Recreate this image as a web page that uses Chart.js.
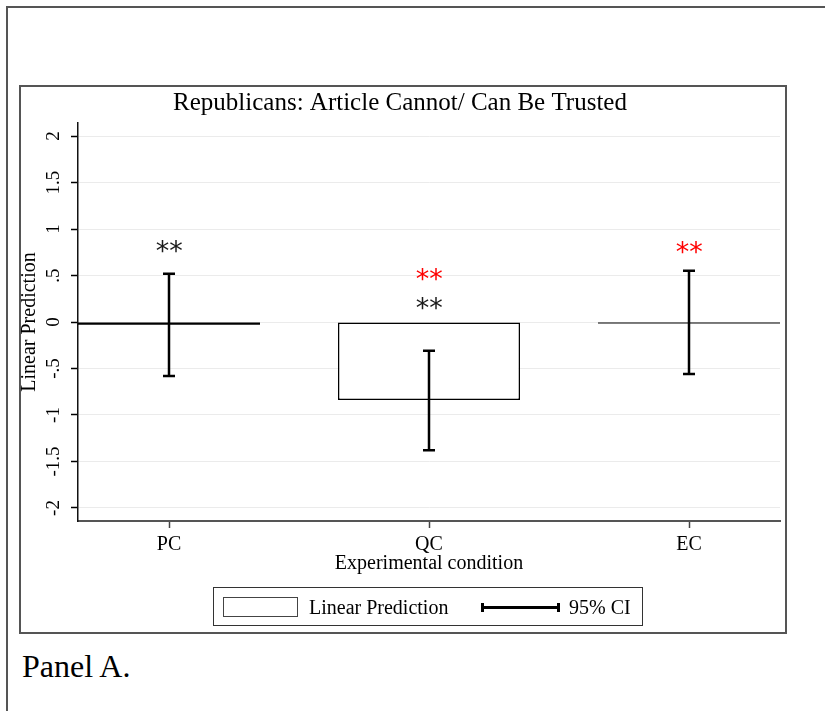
<!DOCTYPE html>
<html lang="en">
<head>
<meta charset="UTF-8">
<title>Republicans: Article Cannot/ Can Be Trusted</title>
<script src="https://cdn.jsdelivr.net/npm/chart.js"></script>
<style>
    body { margin: 0; background: #fff; font-family: "Liberation Serif", serif; color: #000; }
    #page { position: relative; width: 825px; height: 711px; overflow: hidden; background: #fff; }
    /* page frame and graph region */
    #outerFrame { position: absolute; left: 6px; top: 6px; width: 900px; height: 800px; border-left: 2px solid #555; border-top: 2px solid #555; }
    #graphBox { position: absolute; left: 19px; top: 85px; width: 768px; height: 549px; box-sizing: border-box; border: 2px solid #555; }
    #chartCanvas { position: absolute; left: 0; top: 0; z-index: 1; }
    /* legend */
    #legendBox { position: absolute; left: 213px; top: 587px; width: 430px; height: 39px; box-sizing: border-box; border: 1.5px solid #333; z-index: 2; }
    #legendSwatch { position: absolute; left: 223px; top: 597px; width: 75px; height: 20px; box-sizing: border-box; border: 1.5px solid #444; background: #fff; z-index: 2; }
    .legendText { position: absolute; top: 597px; font-size: 20px; line-height: 20px; white-space: nowrap; z-index: 2; }
    .ciPart { position: absolute; background: #000; z-index: 2; }
    #panelLabel { position: absolute; left: 22px; top: 650px; font-size: 32px; line-height: 32px; white-space: nowrap; }
</style>
</head>
<body>
<div id="page">
    <div id="outerFrame"></div>
    <div id="graphBox"></div>
    <canvas id="chartCanvas" width="825" height="711"></canvas>

    <div id="legendBox"></div>
    <div id="legendSwatch"></div>
    <span class="legendText" style="left: 309px;">Linear Prediction</span>
    <div class="ciPart" style="left: 482px; top: 606px; width: 77px; height: 2.5px;"></div>
    <div class="ciPart" style="left: 481px; top: 603px; width: 2.5px; height: 9px;"></div>
    <div class="ciPart" style="left: 557px; top: 603px; width: 2.5px; height: 9px;"></div>
    <span class="legendText" style="left: 569px;">95% CI</span>

    <div id="panelLabel">Panel A.</div>
</div>

<script>
    // values
    const conditions = ['PC', 'QC', 'EC'];
    const conditionPos = [0, 1, 2];
    const predictions = [-0.03, -0.84, -0.016];
    const ciLower = [-0.58, -1.38, -0.56];
    const ciUpper = [0.52, -0.31, 0.55];
    const yTickValues = [-2, -1.5, -1, -0.5, 0, 0.5, 1, 1.5, 2];
    const yTickLabels = ['-2', '-1.5', '-1', '-.5', '0', '.5', '1', '1.5', '2'];

    // significance stars: which condition, at what height, what colour
    const starCondition = [0, 1, 1, 2];
    const starValue = [0.81, 0.51, 0.20, 0.80];
    const starColor = ['#1a1a1a', '#ff0000', '#1a1a1a', '#ff0000'];

    const serif = 'Liberation Serif';

    // 95% CI whiskers with caps
    const errorBars = {
        id: 'errorBars',
        afterDatasetsDraw(chart) {
            const { ctx, scales: { x, y } } = chart;
            ctx.save();
            ctx.strokeStyle = '#000';
            ctx.lineWidth = 2.5;
            conditionPos.forEach((c, i) => {
                const px = x.getPixelForValue(c);
                const top = y.getPixelForValue(ciUpper[i]);
                const bot = y.getPixelForValue(ciLower[i]);
                ctx.beginPath();
                ctx.moveTo(px, top);
                ctx.lineTo(px, bot);
                ctx.moveTo(px - 6, top);
                ctx.lineTo(px + 6, top);
                ctx.moveTo(px - 6, bot);
                ctx.lineTo(px + 6, bot);
                ctx.stroke();
            });
            ctx.restore();
        }
    };

    // the ** markers above the bars
    const stars = {
        id: 'stars',
        afterDatasetsDraw(chart) {
            const { ctx, scales: { x, y } } = chart;
            ctx.save();
            ctx.font = '27px "DejaVu Sans"';
            ctx.textAlign = 'center';
            ctx.textBaseline = 'alphabetic';
            const m = ctx.measureText('*');
            const shift = (m.actualBoundingBoxAscent - m.actualBoundingBoxDescent) / 2;
            starCondition.forEach((c, i) => {
                const px = x.getPixelForValue(c);
                const py = y.getPixelForValue(starValue[i]) + shift;
                ctx.fillStyle = starColor[i];
                ctx.fillText('*', px - 6.5, py);
                ctx.fillText('*', px + 7, py);
            });
            ctx.restore();
        }
    };

    new Chart(document.getElementById('chartCanvas'), {
        type: 'bar',
        data: {
            datasets: [{
                label: 'Linear Prediction',
                data: conditionPos.map((c, i) => ({ x: c, y: predictions[i] })),
                // a bar thinner than its outline is just a black line
                backgroundColor: c => {
                    const el = c.chart.scales.y;
                    const h = Math.abs(el.getPixelForValue(predictions[c.dataIndex]) - el.getPixelForValue(0));
                    return h < 3 ? '#000' : '#fff';
                },
                borderColor: '#000',
                borderWidth: c => {
                    const el = c.chart.scales.y;
                    const h = Math.abs(el.getPixelForValue(predictions[c.dataIndex]) - el.getPixelForValue(0));
                    return h < 3 ? 0 : 1.5;
                },
                borderSkipped: false,
                categoryPercentage: 0.7,
                barPercentage: 1.0
            }]
        },
        options: {
            responsive: false,
            animation: false,
            layout: { padding: { left: 20, top: 86, right: 45, bottom: 135 } },
            plugins: {
                legend: { display: false },
                tooltip: { enabled: false },
                title: {
                    display: true,
                    text: 'Republicans: Article Cannot/ Can Be Trusted',
                    color: '#000',
                    font: { family: serif, size: 25, weight: 'normal', lineHeight: 1.2 },
                    padding: { top: 2, bottom: 5 }
                }
            },
            scales: {
                x: {
                    type: 'linear',
                    min: -0.35,
                    max: 2.35,
                    offset: false,
                    afterBuildTicks: s => { s.ticks = conditionPos.map(v => ({ value: v })); },
                    afterFit: s => { s.height = 55; },
                    grid: { offset: false, drawOnChartArea: false, drawTicks: true, tickLength: 7, tickColor: '#444', tickWidth: 1.5 },
                    border: { color: '#555', width: 2 },
                    ticks: {
                        callback: (v, i) => conditions[i],
                        color: '#000',
                        font: { family: serif, size: 20 },
                        padding: 5,
                        maxRotation: 0,
                        autoSkip: false
                    },
                    title: {
                        display: true,
                        text: 'Experimental condition',
                        color: '#000',
                        font: { family: serif, size: 20 },
                        padding: 0
                    }
                },
                y: {
                    min: -2.14,
                    max: 2.14,
                    afterBuildTicks: s => { s.ticks = yTickValues.map(v => ({ value: v })); },
                    afterFit: s => { s.width = 58; },
                    grid: { color: '#ebebeb', lineWidth: 1, drawTicks: true, tickLength: 7, tickColor: '#000', tickWidth: 1.5 },
                    border: { color: '#111', width: 1.5 },
                    ticks: {
                        callback: (v, i) => yTickLabels[i],
                        minRotation: 90,
                        maxRotation: 90,
                        crossAlign: 'center',
                        padding: 2,
                        autoSkip: false,
                        color: '#000',
                        font: { family: serif, size: 19 }
                    },
                    title: {
                        display: true,
                        text: 'Linear Prediction',
                        color: '#000',
                        font: { family: serif, size: 20, lineHeight: 1.0 },
                        padding: 0
                    }
                }
            }
        },
        plugins: [errorBars, stars]
    });
</script>
</body>
</html>
